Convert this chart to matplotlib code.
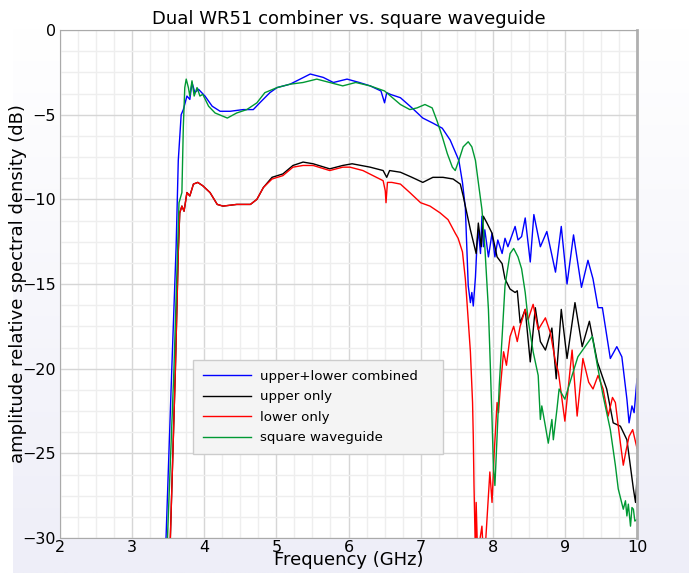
import numpy as np
import matplotlib
matplotlib.use('Agg')
import matplotlib.pyplot as plt
from matplotlib.ticker import MultipleLocator

# frequency (GHz) / level (dB) pairs
f_comb = [3.40, 3.47, 3.55, 3.61, 3.64, 3.68, 3.71, 3.76, 3.80, 3.83, 3.87, 3.92, 4.01, 4.11,
          4.22, 4.36, 4.54, 4.68, 4.77, 4.91, 5.01, 5.19, 5.33, 5.47, 5.65, 5.79, 5.98, 6.15,
          6.30, 6.45, 6.50, 6.53, 6.58, 6.72, 6.88, 7.03, 7.17, 7.30, 7.41, 7.48, 7.53, 7.58,
          7.62, 7.66, 7.69, 7.71, 7.73, 7.76, 7.78, 7.80, 7.83, 7.85, 7.87, 7.89, 7.94, 7.99,
          8.03, 8.07, 8.13, 8.17, 8.21, 8.31, 8.35, 8.40, 8.45, 8.52, 8.57, 8.66, 8.75, 8.87,
          8.95, 9.03, 9.12, 9.23, 9.32, 9.39, 9.46, 9.52, 9.63, 9.72, 9.79, 9.86, 9.89, 9.93,
          9.96, 10.0]
db_comb = [-32, -30, -20, -12.8, -7.7, -5.0, -4.7, -3.9, -4.1, -3.1, -3.7, -3.5, -3.9, -4.5,
           -4.8, -4.8, -4.7, -4.7, -4.3, -3.7, -3.4, -3.2, -2.9, -2.6, -2.8, -3.1, -2.9, -3.1,
           -3.3, -3.6, -4.3, -3.7, -3.8, -4.0, -4.6, -5.2, -5.5, -5.8, -6.5, -7.2, -7.7, -9.0,
           -10.5, -15.1, -16.1, -15.5, -16.3, -14.6, -12.8, -11.8, -13.2, -11.0, -12.8, -11.8, -13.4, -12.0,
           -13.4, -12.4, -13.2, -12.3, -12.8, -11.6, -12.4, -12.2, -11.1, -13.7, -10.9, -12.8, -11.9, -14.3,
           -11.6, -15.0, -12.1, -15.2, -13.6, -14.7, -16.4, -16.4, -19.4, -18.7, -19.3, -21.8, -23.2, -22.2,
           -22.6, -20.6]

f_upper = [3.45, 3.53, 3.60, 3.64, 3.66, 3.69, 3.72, 3.76, 3.80, 3.85, 3.91, 3.98, 4.08, 4.18,
           4.26, 4.45, 4.64, 4.73, 4.82, 4.94, 5.09, 5.23, 5.37, 5.51, 5.74, 5.92, 6.05, 6.30,
           6.48, 6.53, 6.57, 6.72, 6.88, 7.03, 7.17, 7.31, 7.45, 7.55, 7.59, 7.64, 7.69, 7.73,
           7.77, 7.80, 7.84, 7.87, 7.92, 7.99, 8.06, 8.13, 8.17, 8.24, 8.31, 8.34, 8.38, 8.45,
           8.52, 8.59, 8.66, 8.73, 8.82, 8.88, 8.95, 9.03, 9.14, 9.24, 9.34, 9.45, 9.58, 9.67,
           9.77, 9.86, 9.95, 9.98, 10.0]
db_upper = [-32, -30, -20, -13.1, -10.8, -10.4, -10.7, -9.6, -9.8, -9.1, -9.0, -9.2, -9.6, -10.3,
            -10.4, -10.3, -10.3, -10.0, -9.3, -8.7, -8.5, -8.0, -7.8, -7.9, -8.2, -8.0, -7.9, -8.1,
            -8.3, -8.7, -8.3, -8.4, -8.7, -9.0, -8.7, -8.7, -8.8, -9.1, -9.8, -10.8, -11.8, -12.5,
            -13.2, -11.4, -12.8, -11.0, -11.4, -12.0, -13.4, -13.8, -14.7, -15.3, -15.5, -15.4, -17.3, -16.5,
            -19.6, -16.4, -18.4, -18.9, -17.6, -20.6, -16.5, -19.4, -16.1, -18.7, -17.2, -19.6, -21.2, -23.2,
            -23.4, -24.2, -27.1, -27.9, -26.5]

f_lower = [3.45, 3.53, 3.60, 3.64, 3.66, 3.69, 3.72, 3.76, 3.80, 3.85, 3.91, 3.98, 4.08, 4.18,
           4.26, 4.45, 4.64, 4.73, 4.82, 4.94, 5.09, 5.23, 5.37, 5.51, 5.74, 5.92, 6.02, 6.20,
           6.48, 6.51, 6.52, 6.54, 6.60, 6.72, 6.85, 7.00, 7.13, 7.27, 7.38, 7.48, 7.52, 7.58,
           7.62, 7.64, 7.69, 7.72, 7.73, 7.74, 7.76, 7.77, 7.79, 7.85, 7.87, 7.89, 7.96, 7.99,
           8.02, 8.06, 8.08, 8.10, 8.15, 8.19, 8.24, 8.29, 8.34, 8.38, 8.45, 8.49, 8.56, 8.63,
           8.73, 8.80, 8.87, 8.91, 9.00, 9.10, 9.17, 9.25, 9.33, 9.39, 9.46, 9.53, 9.60, 9.66,
           9.70, 9.77, 9.81, 9.85, 9.89, 9.94, 10.0]
db_lower = [-32, -30, -20, -13.1, -10.8, -10.4, -10.7, -9.6, -9.8, -9.1, -9.0, -9.2, -9.6, -10.3,
            -10.4, -10.3, -10.3, -10.0, -9.3, -8.8, -8.6, -8.1, -8.0, -8.0, -8.3, -8.1, -8.1, -8.3,
            -8.9, -9.5, -10.2, -9.0, -9.0, -9.1, -9.6, -10.2, -10.4, -10.8, -11.2, -12.0, -12.3, -13.1,
            -14.7, -15.9, -19.0, -22.0, -24.0, -26.9, -31, -27.9, -31, -29.3, -31, -31, -26.1, -27.9,
            -25.0, -22.0, -22.6, -21.4, -19.0, -19.8, -18.1, -17.5, -18.4, -17.5, -16.5, -17.1, -16.2, -17.7,
            -17.0, -17.9, -19.6, -20.2, -23.1, -18.9, -22.8, -19.4, -20.8, -21.2, -20.4, -21.2, -22.8, -21.7,
            -22.0, -24.4, -25.7, -24.8, -24.0, -23.6, -24.7]

f_square = [3.42, 3.49, 3.58, 3.65, 3.69, 3.71, 3.73, 3.75, 3.78, 3.80, 3.83, 3.86, 3.90, 3.94,
            3.98, 4.06, 4.15, 4.32, 4.45, 4.59, 4.73, 4.84, 5.01, 5.19, 5.37, 5.56, 5.74, 5.92,
            6.10, 6.30, 6.50, 6.72, 6.85, 6.95, 7.06, 7.16, 7.23, 7.30, 7.37, 7.44, 7.48, 7.53,
            7.59, 7.66, 7.71, 7.76, 7.80, 7.85, 7.89, 7.94, 7.96, 7.99, 8.01, 8.03, 8.06, 8.09,
            8.13, 8.17, 8.24, 8.29, 8.35, 8.40, 8.45, 8.49, 8.56, 8.63, 8.66, 8.68, 8.73, 8.77,
            8.82, 8.84, 8.89, 8.92, 9.00, 9.10, 9.18, 9.28, 9.38, 9.45, 9.53, 9.63, 9.70, 9.74,
            9.81, 9.84, 9.86, 9.88, 9.91, 9.93, 9.95, 9.97, 10.0]
db_square = [-32, -30, -20, -10.2, -9.6, -5.7, -3.4, -2.9, -3.4, -3.9, -3.0, -3.9, -3.4, -3.9,
             -3.8, -4.5, -4.9, -5.2, -4.9, -4.7, -4.3, -3.7, -3.4, -3.2, -3.1, -2.9, -3.1, -3.3,
             -3.1, -3.3, -3.6, -4.4, -4.7, -4.6, -4.4, -4.6, -5.4, -6.3, -7.3, -8.1, -8.3, -7.7,
             -6.9, -6.6, -6.9, -7.7, -9.0, -10.6, -12.8, -16.5, -19.0, -23.0, -25.9, -26.9, -24.0, -21.0,
             -18.1, -15.1, -13.2, -12.9, -13.4, -14.1, -15.5, -17.1, -19.0, -20.4, -23.0, -22.2, -23.4, -24.4,
             -23.0, -24.2, -22.4, -21.2, -21.8, -20.4, -19.3, -18.7, -18.1, -19.8, -21.6, -23.6, -25.7, -27.1,
             -28.3, -27.8, -28.7, -28.0, -29.3, -28.2, -28.3, -29.0, -28.9]

fig = plt.figure(figsize=(6.89, 5.73), dpi=100)
fig.patch.set_facecolor('white')

# light page background gradient behind the plot
bg = fig.add_axes([13 / 689, 0, 1 - 13 / 689, 1 - 28 / 573], zorder=-10)
grad = np.linspace(0, 1, 256).reshape(-1, 1)
top_c = np.array([1.0, 1.0, 1.0])
bot_c = np.array([238, 238, 248]) / 255.0
img = top_c + (bot_c - top_c) * grad[:, :, None] * np.ones((1, 2, 1))
bg.imshow(img, aspect='auto', extent=[0, 1, 0, 1], origin='upper')
bg.axis('off')

ax = fig.add_axes([60 / 689, 1 - 538 / 573, 577 / 689, 508 / 573])
ax.set_facecolor('white')

ax.plot(f_comb, db_comb, color='#0000ff', lw=1.0, label='upper+lower combined')
ax.plot(f_upper, db_upper, color='#000000', lw=1.0, label='upper only')
ax.plot(f_lower, db_lower, color='#ff0000', lw=1.0, label='lower only')
ax.plot(f_square, db_square, color='#009933', lw=1.0, label='square waveguide')

ax.set_xlim(2, 10)
ax.set_ylim(-30, 0)
ax.xaxis.set_major_locator(MultipleLocator(1))
ax.xaxis.set_minor_locator(MultipleLocator(0.25))
ax.yaxis.set_major_locator(MultipleLocator(5))
ax.yaxis.set_minor_locator(MultipleLocator(1.25))
ax.grid(which='major', color='#d6d6d6', lw=1.0)
ax.grid(which='minor', color='#eeeeee', lw=1.0)
ax.set_axisbelow(True)
ax.tick_params(which='both', length=0, labelsize=11.5)
ax.tick_params(axis='x', pad=1.5)
ax.tick_params(axis='y', pad=3)

for s in ax.spines.values():
    s.set_color('#aaaaaa')
ax.spines['right'].set_linewidth(2)
ax.spines['right'].set_color('#b0b0b0')

ax.set_title('Dual WR51 combiner vs. square waveguide', fontsize=13, pad=4)
ax.set_xlabel('Frequency (GHz)', fontsize=13, labelpad=-3)
ax.set_ylabel('amplitude relative spectral density (dB)', fontsize=13)
ax.yaxis.set_label_coords(-0.058, 0.5)

leg = ax.legend(loc='lower left', bbox_to_anchor=(0.2305, 0.165, 0.433, 0.187), mode='expand',
                borderaxespad=0, fontsize=9.6, fancybox=False, framealpha=1,
                facecolor='#f4f4f4', edgecolor='#cccccc',
                handlelength=3.6, handletextpad=0.7, borderpad=0.75, labelspacing=0.56)
leg.get_frame().set_linewidth(1.0)

fig.savefig('out.png', dpi=100)
